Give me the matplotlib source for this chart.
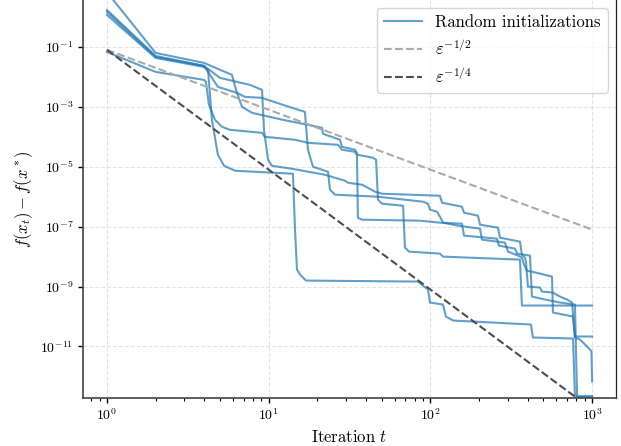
import numpy as np
import matplotlib
matplotlib.use("Agg")
import matplotlib.pyplot as plt
from matplotlib.ticker import LogLocator, NullLocator

plt.rcParams.update({
    "font.family": "serif",
    "font.serif": ["cmr10"],
    "mathtext.fontset": "cm",
    "axes.formatter.use_mathtext": True,
})

# runs: log10(iteration), log10(f(x_t) - f(x*))
run1_lt = [0, 0.301, 0.600, 0.625, 0.649, 0.686, 0.724, 0.792, 1.150, 1.163, 1.175, 1.194, 1.231,
           1.923, 1.954, 1.985, 1.998, 2.078, 2.096, 2.140, 2.622, 2.634, 2.882, 2.894, 3.0]
run1_lf = [0.067, -1.367, -1.667, -1.767, -3.433, -4.6, -4.967, -5.133, -5.233, -7.1, -8.433, -8.6, -8.8,
           -8.833, -8.967, -9.1, -9.533, -9.6, -10.0, -10.133, -10.267, -10.7, -10.733, -12.667, -12.667]

run2_lt = [0, 0.301, 0.600, 0.773, 0.798, 0.835, 0.897, 1.088, 1.243, 1.330, 1.336, 1.441, 1.453, 1.534,
           1.552, 1.645, 1.664, 1.676, 1.701, 1.831, 1.843, 1.868, 2.059, 2.078, 2.554, 2.566, 3.0]
run2_lf = [0.83, -1.2, -1.533, -1.933, -2.433, -3.0, -3.2, -3.433, -3.6, -3.7, -3.9, -4.1, -4.333, -4.433,
           -4.6, -4.7, -4.767, -6.1, -6.233, -6.3, -7.7, -7.833, -7.9, -8.0, -8.1, -9.633, -9.633]

run3_lt = [0, 0.301, 0.600, 0.612, 0.631, 0.668, 0.711, 0.761, 0.959, 0.977, 1.163, 1.243, 1.429, 1.453,
           1.534, 1.546, 1.552, 1.577, 1.936, 2.059, 2.195, 2.208, 2.412, 2.424, 2.523, 2.536, 2.616,
           2.628, 2.709, 2.801, 2.894, 2.907, 3.0]
run3_lf = [-1.167, -1.833, -2.1, -2.167, -2.933, -3.433, -3.667, -3.767, -3.867, -4.0, -4.1, -4.2, -4.267,
           -4.433, -4.5, -4.633, -6.7, -6.767, -6.8, -6.867, -6.9, -7.3, -7.4, -7.633, -7.733, -7.9, -7.967,
           -9.333, -9.433, -9.533, -9.6, -12.667, -12.667]

run4_lt = [0, 0.301, 0.600, 0.686, 0.804, 0.853, 0.959, 1.088, 1.224, 1.243, 1.274, 1.367, 1.379, 1.410,
           1.676, 1.843, 1.954, 1.985, 1.998, 2.041, 2.059, 2.078, 2.171, 2.307, 2.319, 2.461, 2.480,
           2.542, 2.566, 2.579, 2.597, 2.678, 2.752, 2.758, 2.882, 2.894, 3.0]
run4_lf = [0.233, -1.3, -1.633, -2.333, -2.533, -2.667, -2.7, -2.933, -3.167, -4.433, -5.0, -5.167, -5.767,
           -5.933, -6.0, -6.1, -6.167, -6.233, -6.433, -6.5, -6.667, -6.867, -6.967, -7.067, -7.433, -7.533,
           -7.833, -7.967, -8.033, -8.267, -8.467, -8.567, -8.667, -9.867, -10.0, -10.667, -10.667]

run5_lt = [0, 0.301, 0.600, 0.699, 0.884, 0.959, 0.971, 0.996, 1.020, 1.144, 1.348, 1.472, 1.490, 1.577,
           1.614, 1.657, 1.701, 2.059, 2.072, 2.195, 2.208, 2.294, 2.307, 2.418, 2.430, 2.554, 2.566,
           2.585, 2.591, 2.603, 2.678, 2.690, 2.758, 2.801, 2.845, 2.876, 2.894, 2.925, 2.987, 2.996, 3.0]
run5_lf = [0.167, -1.333, -1.633, -2.033, -2.267, -2.433, -3.767, -4.767, -4.967, -5.067, -5.267, -5.467,
           -5.533, -5.6, -5.7, -5.833, -5.9, -5.967, -6.2, -6.333, -6.533, -6.633, -6.933, -7.033, -7.367,
           -7.5, -7.933, -8.033, -8.167, -9.0, -9.033, -9.167, -9.2, -9.333, -9.433, -9.533, -10.7, -10.767,
           -11.1, -11.167, -12.167]

runs = [(run1_lt, run1_lf), (run2_lt, run2_lf), (run3_lt, run3_lf), (run4_lt, run4_lf), (run5_lt, run5_lf)]

# reference rates, end points
ref_t = [1, 1000]
ref_half = [0.08, 8e-8]     # eps^{-1/2}
ref_quarter = [0.08, 8e-14]  # eps^{-1/4}

fig = plt.figure(figsize=(6.21, 4.46), dpi=100)
ax = fig.add_axes([0.1337, 0.1076, 0.8583, 0.8924])

for i, (lt, lf) in enumerate(runs):
    ax.plot(10.0 ** np.array(lt), 10.0 ** np.array(lf), color="tab:blue", alpha=0.7, lw=1.5,
            label="Random initializations" if i == 0 else None)

ax.plot(ref_t, ref_half, "--", color="#aaaaaa", lw=1.5, label=r"$\varepsilon^{-1/2}$")
ax.plot(ref_t, ref_quarter, "--", color="#4d4d4d", lw=1.5, label=r"$\varepsilon^{-1/4}$")

ax.set_xscale("log")
ax.set_yscale("log")
ax.set_xlim(10 ** -0.148, 10 ** 3.148)
ax.set_ylim(10 ** -12.72, 10 ** 0.567)
ax.set_yticks([1e-11, 1e-9, 1e-7, 1e-5, 1e-3, 1e-1])
ax.yaxis.set_minor_locator(NullLocator())
ax.xaxis.set_minor_locator(LogLocator(base=10, subs=np.arange(2, 10), numticks=20))

ax.grid(True, which="major", ls="--", color="#dddddd", lw=0.8, alpha=0.8)
ax.tick_params(axis="both", which="major", labelsize=10, length=3.5, width=1)
ax.tick_params(axis="x", which="minor", length=2, width=0.8)

ax.spines["top"].set_visible(False)
for s in ["left", "bottom"]:
    ax.spines[s].set_color("#444444")
    ax.spines[s].set_linewidth(1.2)
ax.spines["right"].set_color("#222222")
ax.spines["right"].set_linewidth(0.9)

ax.set_xlabel(r"Iteration $t$", fontsize=12)
ax.set_ylabel(r"$f(x_t) - f(x^*)$", fontsize=12)
ax.legend(loc="upper right", fontsize=12, handlelength=2.3)

fig.savefig("out.png", dpi=100)
